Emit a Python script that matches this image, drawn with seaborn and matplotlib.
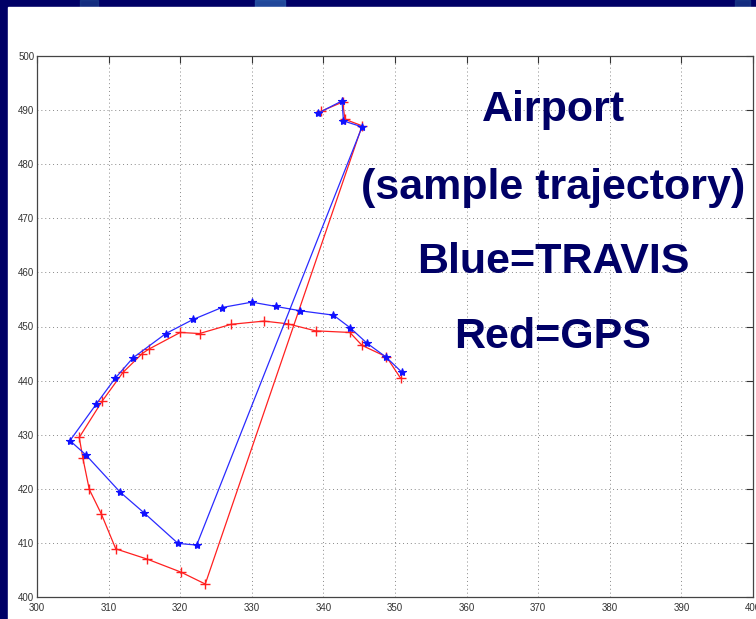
import matplotlib
matplotlib.use("Agg")
import matplotlib.pyplot as plt
import seaborn as sns
import pandas as pd
from matplotlib.patches import Rectangle

# TRAVIS estimated trajectory (blue)
travis_x = [339.2, 342.6, 342.8, 345.4, 322.3, 319.7, 315.0, 311.6, 306.8, 304.6,
            308.3, 310.9, 313.4, 318.0, 321.8, 325.8, 330.0, 333.4, 336.8, 341.4,
            343.7, 346.1, 348.7, 351.0]
travis_y = [489.4, 491.7, 488.0, 486.9, 409.6, 409.9, 415.5, 419.4, 426.3, 428.9,
            435.7, 440.4, 444.2, 448.7, 451.3, 453.5, 454.5, 453.7, 452.9, 452.1,
            449.8, 446.9, 444.4, 441.5]

# GPS reference trajectory (red)
gps_x = [339.7, 342.7, 343.0, 345.4, 323.5, 320.1, 315.4, 311.0, 309.0, 307.3,
         306.4, 305.9, 309.1, 312.0, 314.7, 315.6, 320.0, 322.7, 327.1, 331.7,
         335.0, 338.9, 343.7, 345.4, 348.8, 350.8]
gps_y = [489.8, 491.5, 488.3, 487.1, 402.4, 404.6, 407.0, 408.9, 415.3, 419.9,
         425.7, 429.5, 436.2, 441.5, 445.0, 445.8, 448.9, 448.7, 450.4, 451.0,
         450.5, 449.2, 448.9, 446.5, 444.4, 440.4]

x_ticks = [300, 310, 320, 330, 340, 350, 360, 370, 380, 390, 400]
y_ticks = [400, 410, 420, 430, 440, 450, 460, 470, 480, 490, 500]

caption_lines = ["Airport", "(sample trajectory)", "Blue=TRAVIS", "Red=GPS"]

sns.set_style("white")
plt.rcParams["font.family"] = ["Liberation Sans", "DejaVu Sans"]

NAVY = "#000066"
W, H = 756, 619
fig = plt.figure(figsize=(W / 100, H / 100), dpi=100)
fig.patch.set_facecolor(NAVY)

# slide backdrop: navy frame with a white content panel
bg = fig.add_axes([0, 0, 1, 1], zorder=0)
bg.set_xlim(0, W)
bg.set_ylim(H, 0)
bg.axis("off")
bg.add_patch(Rectangle((0, 0), W, H, color=NAVY))
bg.add_patch(Rectangle((255, 0), 30, 7, color="#2a5aa8", alpha=0.8))
bg.add_patch(Rectangle((80, 0), 18, 7, color="#1c3f8a", alpha=0.7))
bg.add_patch(Rectangle((735, 0), 15, 7, color="#1c3f8a", alpha=0.7))
bg.add_patch(Rectangle((8, 7), W - 8, H - 7, color="white"))

ax = fig.add_axes([37 / W, 1 - 597 / H, (753 - 37) / W, (597 - 56) / H], zorder=1)
ax.set_facecolor("white")

travis = pd.DataFrame({"x": travis_x, "y": travis_y})
gps = pd.DataFrame({"x": gps_x, "y": gps_y})

sns.lineplot(data=gps, x="x", y="y", sort=False, estimator=None, ax=ax,
             color="#ff2020", lw=0.9, marker="+", markersize=7, mew=1.0,
             mec="#ff2020")
sns.lineplot(data=travis, x="x", y="y", sort=False, estimator=None, ax=ax,
             color="#2a2aff", lw=0.9, marker="*", markersize=6, mew=0.8,
             mec="#1010ff", mfc="#1010ff")

ax.set_xlim(300, 400)
ax.set_ylim(400, 500)
ax.set_xticks(x_ticks)
ax.set_yticks(y_ticks)
ax.set_xticklabels([str(v) for v in x_ticks])
ax.set_yticklabels([str(v) for v in y_ticks])
ax.set_xlabel("")
ax.set_ylabel("")
ax.grid(True, color="#888888", linestyle=(0, (1, 3)), linewidth=0.7)
ax.tick_params(direction="in", length=5, width=0.8, colors="#333333",
               labelsize=7, top=True, right=True, pad=2)
ax.tick_params(axis="x", pad=4)
for s in ax.spines.values():
    s.set_color("#444444")
    s.set_linewidth(0.9)
    s.set_visible(True)

caption_y = [110, 188, 262, 337]
for txt, yy in zip(caption_lines, caption_y):
    fig.text(553 / W, 1 - yy / H, txt, ha="center", va="center",
             fontsize=31, fontweight="bold", color=NAVY, zorder=5)

fig.savefig("out.png", dpi=100, facecolor=fig.get_facecolor())
